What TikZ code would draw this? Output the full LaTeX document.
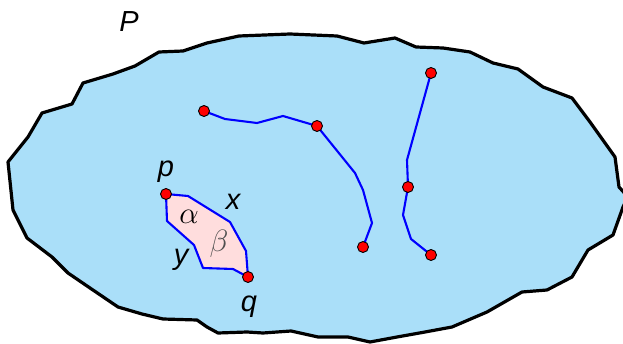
\documentclass[tikz,border=0pt]{standalone}
\usepackage{fontspec}
\setmainfont{Liberation Sans}
\definecolor{bgblue}{RGB}{170,223,249}
\definecolor{lenspink}{RGB}{255,221,221}
\definecolor{routeblue}{RGB}{0,0,255}
\definecolor{betagray}{RGB}{80,80,80}
\begin{document}
\begin{tikzpicture}[x=1pt,y=-1pt,
  dot/.style={circle,fill=red,draw=black,line width=0.9pt,inner sep=0pt,minimum size=11pt},
  lbl/.style={anchor=base,inner sep=0pt,font=\fontsize{29}{29}\selectfont\itshape},
  glbl/.style={anchor=base,inner sep=0pt,font=\Huge,scale=1.24},
  route/.style={draw=routeblue,line width=2.1pt,line join=round},
  region/.style={fill=bgblue,draw=black,line width=3.2pt,line join=round}]
\useasboundingbox (0,0) rectangle (623,344);
% the region P
\path[region] (8,162) -- (28,137) -- (42,113) -- (72,104) -- (83,83) -- (113,74)
  -- (135,66) -- (159,52) -- (183,51) -- (207,43) -- (239,36) -- (290,34)
  -- (337,36) -- (364,43) -- (395,38) -- (416,47) -- (443,48) -- (470,52)
  -- (493,63) -- (518,69) -- (543,87) -- (572,98) -- (590,122) -- (615,157)
  -- (619,187) -- (628,197) -- (623,207) -- (613,235) -- (588,250) -- (572,277)
  -- (547,290) -- (522,292) -- (487,312) -- (452,327) -- (425,332) -- (397,337)
  -- (370,342) -- (348,337) -- (318,337) -- (291,331) -- (263,333) -- (247,332)
  -- (218,333) -- (207,327) -- (197,320) -- (163,319) -- (142,314) -- (118,307)
  -- (90,288) -- (68,273) -- (52,257) -- (27,238) -- (13,210) -- cycle;
\node[lbl] (Plbl) at (129,32) {P};
% coordinates
\coordinate (a1) at (204,111);
\coordinate (a2) at (317,126);
\coordinate (a3) at (363,247);
\coordinate (b1) at (431,73);
\coordinate (b2) at (408,187);
\coordinate (b3) at (431,255);
\coordinate (p) at (166,194);
\coordinate (q) at (248,277);
% lens
\fill[lenspink] (p) -- (188,196) -- (230,222) -- (246,251) -- (q)
  -- (233,269) -- (203,268) -- (194,245) -- (167,221) -- cycle;
\draw[route] (p) -- (188,196) -- (230,222) -- (246,251) -- (q);
\draw[route] (p) -- (167,221) -- (194,245) -- (203,268) -- (233,269) -- (q);
% routes
\draw[route] (a1) -- (225,119) -- (257,123) -- (283,116) -- (a2);
\draw[route] (a2) -- (355,173) -- (363,190) -- (372,223) -- (a3);
\draw[route] (b1) -- (407,160) -- (b2);
\draw[route] (b2) -- (403,215) -- (411,239) -- (b3);
% dots
\foreach \c in {a1,a2,a3,b1,b2,b3,p,q}
  \node[dot] (\c dot) at (\c) {};
% labels
\node[lbl] (plbl) at (166,177) {p};
\node[lbl] (qlbl) at (249,312) {q};
\node[lbl] (xlbl) at (233,210) {x};
\node[lbl] (ylbl) at (181,265) {y};
\node[glbl] (albl) at (189,224) {$\alpha$};
\node[glbl,text=betagray] (blbl) at (219,252) {$\beta$};
\end{tikzpicture}
\end{document}
